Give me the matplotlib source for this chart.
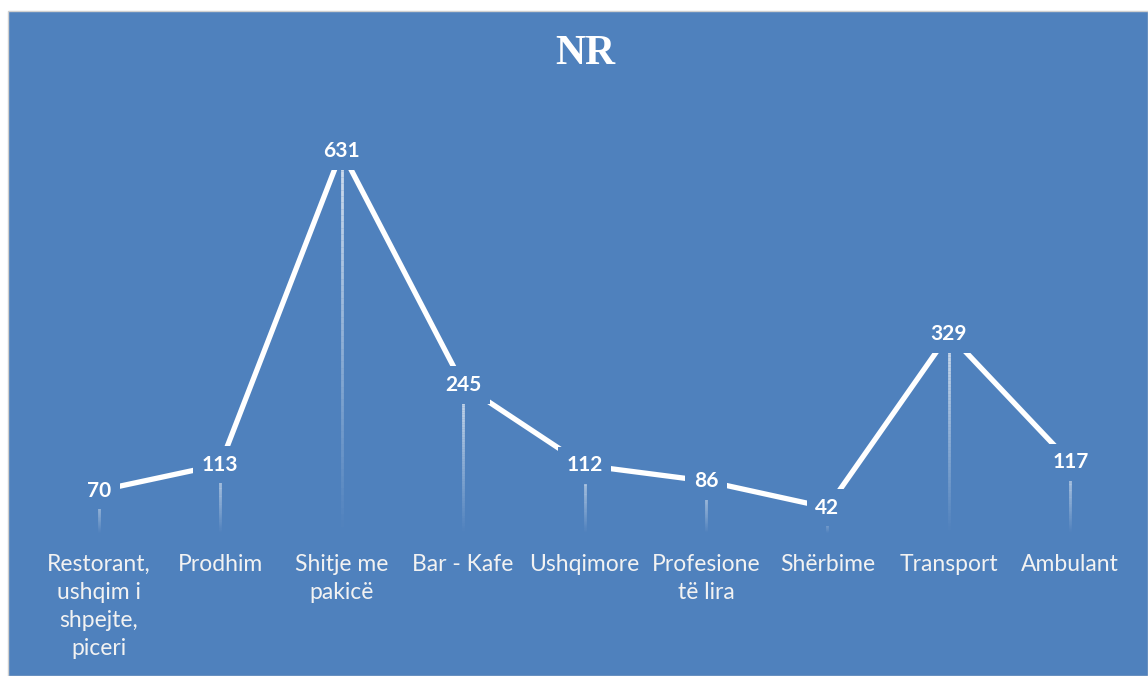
import numpy as np
import matplotlib
matplotlib.use("Agg")
import matplotlib.pyplot as plt
from matplotlib.patches import Rectangle
from matplotlib.collections import LineCollection

categories = ["Restorant,\nushqim i\nshpejte,\npiceri", "Prodhim", "Shitje me\npakicë",
              "Bar - Kafe", "Ushqimore", "Profesione\ntë lira", "Shërbime",
              "Transport", "Ambulant"]
values = [70, 113, 631, 245, 112, 86, 42, 329, 117]
title = "NR"

BLUE = "#4F81BD"
W, H = 1148, 676
fig = plt.figure(figsize=(W / 100, H / 100), dpi=100, facecolor="white")
bg = Rectangle((8 / W, 0), 1 - 8 / W, 1 - 11 / H, transform=fig.transFigure,
               facecolor=BLUE, edgecolor="#d0d0d0", lw=1, zorder=-10)
fig.add_artist(bg)

bottom = (H - 533) / H
top = (H - 120) / H
ax = fig.add_axes([38 / W, bottom, 1093 / W, top - bottom])
ax.set_zorder(5)
ax.set_facecolor("none")
for s in ax.spines.values():
    s.set_visible(False)
x = np.arange(len(values))
ax.set_xlim(-0.5, len(values) - 0.5)
ax.set_ylim(0, 683)
ax.set_yticks([])
ax.set_xticks(x)
ax.set_xticklabels(categories, fontsize=16.5, family="Lato", color="#f2f2f2", linespacing=1.42)
ax.tick_params(axis="x", length=0, pad=15)

# gradient drop lines
for xi, v in zip(x, values):
    n = 60
    ys = np.linspace(v, 0, n + 1)
    segs = [[(xi, ys[i]), (xi, ys[i + 1])] for i in range(n)]
    alphas = np.linspace(0.75, 0.0, n)
    cols = [(1, 1, 1, a) for a in alphas]
    ax.add_collection(LineCollection(segs, colors=cols, linewidths=2, zorder=2))

ax.plot(x, values, color="white", lw=3.8, zorder=3, solid_capstyle="butt")

for xi, v in zip(x, values):
    ax.text(xi, v, str(v), ha="center", va="center", fontsize=15, family="Lato",
            fontweight="bold", color="white", zorder=5,
            bbox=dict(boxstyle="square,pad=0.42", facecolor=BLUE, edgecolor="none"))

fig.text(585 / W, 1 - 54 / H, title, ha="center", va="center", fontsize=30,
         family="Liberation Serif", fontweight="bold", color="white")

fig.savefig("out.png", dpi=100, facecolor="white")
